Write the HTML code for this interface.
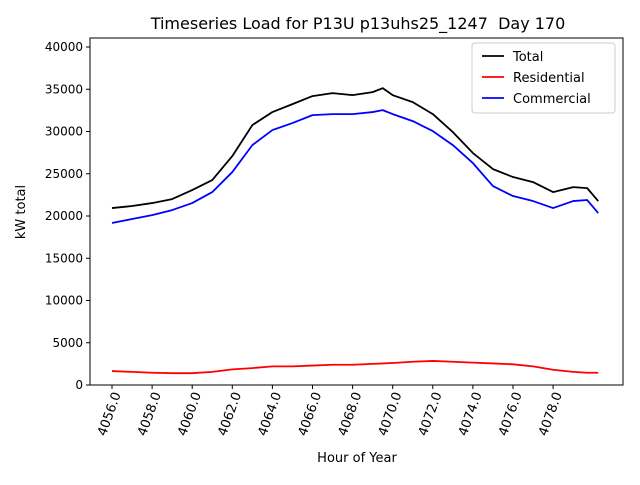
<!DOCTYPE html>
<html><head><meta charset="utf-8"><style>body{margin:0;background:#fff}svg{font-family:"DejaVu Sans","Liberation Sans",sans-serif}</style></head>
<body>
<svg id="c" width="640" height="480"></svg>
<script>
const hours=[4056,4057,4058,4059,4060,4061,4062,4063,4064,4065,4066,4067,4068,4069,4069.5,4070,4071,4072,4073,4074,4075,4076,4077,4078,4079,4079.7,4080.25];
const total=[20940,21180,21530,22000,23070,24250,27090,30760,32300,33240,34190,34540,34300,34660,35130,34300,33480,32060,29930,27450,25550,24610,24010,22830,23420,23300,21770];
const residential=[1650,1550,1450,1400,1400,1550,1850,2000,2200,2200,2300,2400,2400,2500,2550,2600,2750,2850,2750,2650,2550,2450,2200,1800,1550,1450,1450];
const commercial=[19170,19640,20110,20700,21530,22830,25200,28390,30170,31000,31940,32060,32060,32300,32530,32060,31230,30050,28390,26260,23540,22360,21770,20940,21770,21890,20350];
const xTicks=[4056,4058,4060,4062,4064,4066,4068,4070,4072,4074,4076,4078];
const yTicks=[0,5000,10000,15000,20000,25000,30000,35000,40000];
const NS="http://www.w3.org/2000/svg",svg=document.getElementById('c');
const L=90,R=623,T=38,B=385;
const X=h=>112+(h-4056)*20.05;
const Y=v=>B-v*(338/40000);
function mk(t,a,p){const e=document.createElementNS(NS,t);for(const k in a)e.setAttribute(k,a[k]);(p||svg).appendChild(e);return e;}
let e=mk('text',{x:358,y:29,'text-anchor':'middle','font-size':16});e.textContent='Timeseries Load for P13U p13uhs25_1247\u00a0\u00a0Day 170';


yTicks.forEach(v=>{mk('line',{x1:L-4,x2:L,y1:Y(v),y2:Y(v),stroke:'#000'});
 const t=mk('text',{x:L-7,y:Y(v)+4,'text-anchor':'end','font-size':12});t.textContent=v;
 
 });
xTicks.forEach(v=>{const x=X(v);mk('line',{x1:x,x2:x,y1:B,y2:B+4,stroke:'#000'});
 const t=mk('text',{x:x+9,y:B+9,'text-anchor':'end','font-size':13,transform:`rotate(-70 ${x+9} ${B+9})`});t.textContent=v.toFixed(1);
 
 });
e=mk('text',{x:357,y:462,'text-anchor':'middle','font-size':13});e.textContent='Hour of Year';


e=mk('text',{x:25,y:212,'text-anchor':'middle','font-size':13,transform:'rotate(-90 25 212)'});e.textContent='kW total';


[[total,'#000','total-line'],[residential,'#f00','residential-line'],[commercial,'#00f','commercial-line']].forEach(([d,c,n])=>{
 const p=mk('polyline',{points:d.map((v,i)=>X(hours[i])+','+Y(v)).join(' '),fill:'none',stroke:c,'stroke-width':1.8,'stroke-linejoin':'round'});
 
 });
e=mk('rect',{x:L,y:T,width:R-L,height:B-T,fill:'none',stroke:'#000'});


const lg=mk('g',{});


mk('rect',{x:472,y:43,width:143,height:70,rx:3,fill:'#fff','fill-opacity':0.8,stroke:'#ccc'},lg);
[['Total','#000'],['Residential','#f00'],['Commercial','#00f']].forEach(([n,c],i)=>{const y=56+i*21;
 mk('line',{x1:482,x2:504,y1:y,y2:y,stroke:c,'stroke-width':1.8},lg);
 const t=mk('text',{x:513,y:y+5,'font-size':13},lg);t.textContent=n;
 
 });
</script>
</body></html>
